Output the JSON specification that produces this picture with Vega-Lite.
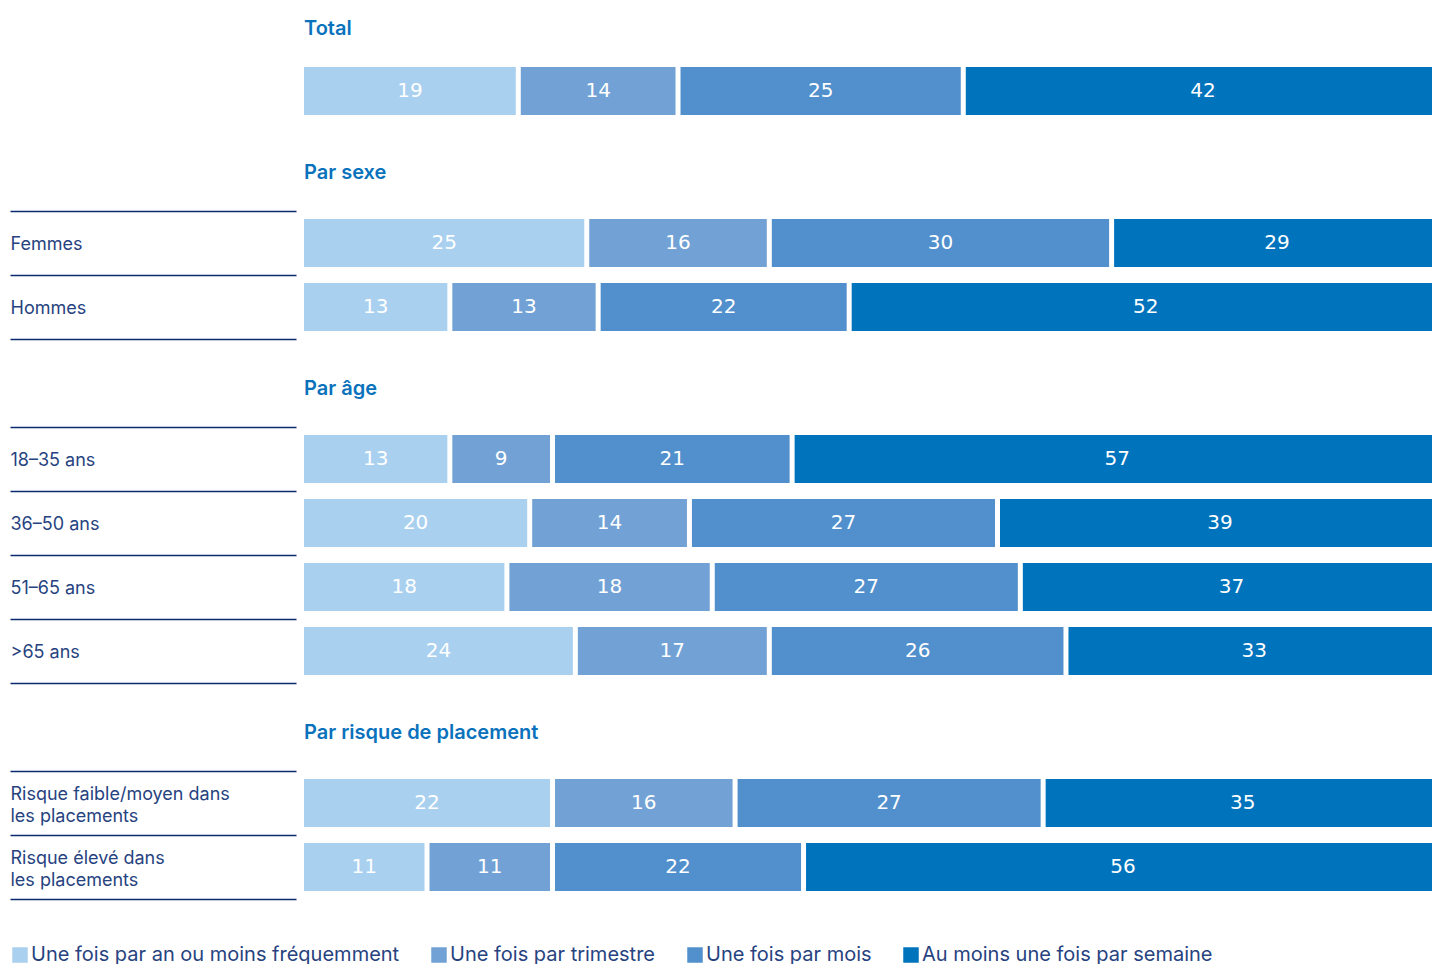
{
  "$schema": "https://vega.github.io/schema/vega-lite/v6.json",
  "padding": {"left": 9, "top": 19, "right": 0, "bottom": 0},
  "background": "white",
  "config": {
    "view": {"stroke": null},
    "font": "Inter",
    "title": {"anchor": "start", "frame": "group", "fontSize": 20, "fontWeight": 600, "color": "#0a72bc", "font": "Inter", "offset": 19.5},
    "axisY": {
      "title": null, "domain": false, "grid": false, "tickBand": "extent", "tickSize": 286, "tickColor": "#0c2b6b", "tickWidth": 1.5,
      "offset": 8, "labelAlign": "left", "labelPadding": 0, "labelFontSize": 18, "labelColor": "#27437f", "labelFont": "Inter",
      "labelLimit": 300, "labelLineHeight": 22, "labelOffset": 1, "labelExpr": "split(datum.label, '|')"
    },
    "concat": {"spacing": 38}
  },
  "data": {"values": [
    {"section": "Total", "row": " ", "cat": "Une fois par an ou moins fréquemment", "k": 1, "value": 19},
    {"section": "Total", "row": " ", "cat": "Une fois par trimestre", "k": 2, "value": 14},
    {"section": "Total", "row": " ", "cat": "Une fois par mois", "k": 3, "value": 25},
    {"section": "Total", "row": " ", "cat": "Au moins une fois par semaine", "k": 4, "value": 42},
    {"section": "Sexe", "row": "Femmes", "cat": "Une fois par an ou moins fréquemment", "k": 1, "value": 25},
    {"section": "Sexe", "row": "Femmes", "cat": "Une fois par trimestre", "k": 2, "value": 16},
    {"section": "Sexe", "row": "Femmes", "cat": "Une fois par mois", "k": 3, "value": 30},
    {"section": "Sexe", "row": "Femmes", "cat": "Au moins une fois par semaine", "k": 4, "value": 29},
    {"section": "Sexe", "row": "Hommes", "cat": "Une fois par an ou moins fréquemment", "k": 1, "value": 13},
    {"section": "Sexe", "row": "Hommes", "cat": "Une fois par trimestre", "k": 2, "value": 13},
    {"section": "Sexe", "row": "Hommes", "cat": "Une fois par mois", "k": 3, "value": 22},
    {"section": "Sexe", "row": "Hommes", "cat": "Au moins une fois par semaine", "k": 4, "value": 52},
    {"section": "Age", "row": "18–35 ans", "cat": "Une fois par an ou moins fréquemment", "k": 1, "value": 13},
    {"section": "Age", "row": "18–35 ans", "cat": "Une fois par trimestre", "k": 2, "value": 9},
    {"section": "Age", "row": "18–35 ans", "cat": "Une fois par mois", "k": 3, "value": 21},
    {"section": "Age", "row": "18–35 ans", "cat": "Au moins une fois par semaine", "k": 4, "value": 57},
    {"section": "Age", "row": "36–50 ans", "cat": "Une fois par an ou moins fréquemment", "k": 1, "value": 20},
    {"section": "Age", "row": "36–50 ans", "cat": "Une fois par trimestre", "k": 2, "value": 14},
    {"section": "Age", "row": "36–50 ans", "cat": "Une fois par mois", "k": 3, "value": 27},
    {"section": "Age", "row": "36–50 ans", "cat": "Au moins une fois par semaine", "k": 4, "value": 39},
    {"section": "Age", "row": "51–65 ans", "cat": "Une fois par an ou moins fréquemment", "k": 1, "value": 18},
    {"section": "Age", "row": "51–65 ans", "cat": "Une fois par trimestre", "k": 2, "value": 18},
    {"section": "Age", "row": "51–65 ans", "cat": "Une fois par mois", "k": 3, "value": 27},
    {"section": "Age", "row": "51–65 ans", "cat": "Au moins une fois par semaine", "k": 4, "value": 37},
    {"section": "Age", "row": ">65 ans", "cat": "Une fois par an ou moins fréquemment", "k": 1, "value": 24},
    {"section": "Age", "row": ">65 ans", "cat": "Une fois par trimestre", "k": 2, "value": 17},
    {"section": "Age", "row": ">65 ans", "cat": "Une fois par mois", "k": 3, "value": 26},
    {"section": "Age", "row": ">65 ans", "cat": "Au moins une fois par semaine", "k": 4, "value": 33},
    {"section": "Risque", "row": "Risque faible/moyen dans|les placements", "cat": "Une fois par an ou moins fréquemment", "k": 1, "value": 22},
    {"section": "Risque", "row": "Risque faible/moyen dans|les placements", "cat": "Une fois par trimestre", "k": 2, "value": 16},
    {"section": "Risque", "row": "Risque faible/moyen dans|les placements", "cat": "Une fois par mois", "k": 3, "value": 27},
    {"section": "Risque", "row": "Risque faible/moyen dans|les placements", "cat": "Au moins une fois par semaine", "k": 4, "value": 35},
    {"section": "Risque", "row": "Risque élevé dans|les placements", "cat": "Une fois par an ou moins fréquemment", "k": 1, "value": 11},
    {"section": "Risque", "row": "Risque élevé dans|les placements", "cat": "Une fois par trimestre", "k": 2, "value": 11},
    {"section": "Risque", "row": "Risque élevé dans|les placements", "cat": "Une fois par mois", "k": 3, "value": 22},
    {"section": "Risque", "row": "Risque élevé dans|les placements", "cat": "Au moins une fois par semaine", "k": 4, "value": 56}
  ]},
  "resolve": {"scale": {"color": "shared"}},
  "vconcat": [
    {
      "title": {"text": "Total", "offset": 11},
      "width": 1141, "height": 64,
      "transform": [
        {"filter": "datum.section === 'Total'"},
        {"stack": "value", "groupby": ["row"], "sort": [{"field": "k"}], "as": ["v0", "v1"]},
        {"calculate": "(datum.v0 + datum.v1) / 2", "as": "mid"}
      ],
      "encoding": {
        "y": {"field": "row", "type": "nominal", "sort": null, "scale": {"paddingInner": 0, "paddingOuter": 0}, "axis": {"tickColor": "white", "labelExpr": "''"}}
      },
      "layer": [
        {"mark": {"type": "bar", "x2Offset": -5, "height": {"band": 0.75}},
         "encoding": {
           "x": {"field": "v0", "type": "quantitative", "scale": {"domain": [0, 100], "nice": false, "zero": false}, "axis": null},
           "x2": {"field": "v1"},
           "color": {"field": "cat", "type": "nominal", "sort": null,
             "scale": {"domain": ["Une fois par an ou moins fréquemment", "Une fois par trimestre", "Une fois par mois", "Au moins une fois par semaine"], "range": ["#a9d0ef", "#72a2d5", "#5190cc", "#0073bd"]},
             "legend": {"orient": "none", "legendX": -294, "legendY": 886, "direction": "horizontal", "title": null, "symbolType": "square", "symbolSize": 240, "symbolStrokeWidth": 0, "labelFontSize": 20, "labelFont": "Inter", "labelColor": "#27437f", "labelLimit": 600, "columnPadding": 29, "labelOffset": 1}}
         }},
        {"mark": {"type": "text", "color": "white", "fontSize": 20, "font": "DejaVu Sans", "dx": -2.5, "baseline": "middle"},
         "encoding": {
           "x": {"field": "mid", "type": "quantitative"},
           "text": {"field": "value", "type": "quantitative"}
         }}
      ]
    },
    {
      "title": {"text": "Par sexe"},
      "width": 1141, "height": 128,
      "transform": [
        {"filter": "datum.section === 'Sexe'"},
        {"stack": "value", "groupby": ["row"], "sort": [{"field": "k"}], "as": ["v0", "v1"]},
        {"calculate": "(datum.v0 + datum.v1) / 2", "as": "mid"}
      ],
      "encoding": {
        "y": {"field": "row", "type": "nominal", "sort": null, "scale": {"paddingInner": 0, "paddingOuter": 0}}
      },
      "layer": [
        {"mark": {"type": "bar", "x2Offset": -5, "height": {"band": 0.75}},
         "encoding": {
           "x": {"field": "v0", "type": "quantitative", "scale": {"domain": [0, 100], "nice": false, "zero": false}, "axis": null},
           "x2": {"field": "v1"},
           "color": {"field": "cat", "type": "nominal", "sort": null, "legend": null}
         }},
        {"mark": {"type": "text", "color": "white", "fontSize": 20, "font": "DejaVu Sans", "dx": -2.5, "baseline": "middle"},
         "encoding": {
           "x": {"field": "mid", "type": "quantitative"},
           "text": {"field": "value", "type": "quantitative"}
         }}
      ]
    },
    {
      "title": {"text": "Par âge"},
      "width": 1141, "height": 256,
      "transform": [
        {"filter": "datum.section === 'Age'"},
        {"stack": "value", "groupby": ["row"], "sort": [{"field": "k"}], "as": ["v0", "v1"]},
        {"calculate": "(datum.v0 + datum.v1) / 2", "as": "mid"}
      ],
      "encoding": {
        "y": {"field": "row", "type": "nominal", "sort": null, "scale": {"paddingInner": 0, "paddingOuter": 0}}
      },
      "layer": [
        {"mark": {"type": "bar", "x2Offset": -5, "height": {"band": 0.75}},
         "encoding": {
           "x": {"field": "v0", "type": "quantitative", "scale": {"domain": [0, 100], "nice": false, "zero": false}, "axis": null},
           "x2": {"field": "v1"},
           "color": {"field": "cat", "type": "nominal", "sort": null, "legend": null}
         }},
        {"mark": {"type": "text", "color": "white", "fontSize": 20, "font": "DejaVu Sans", "dx": -2.5, "baseline": "middle"},
         "encoding": {
           "x": {"field": "mid", "type": "quantitative"},
           "text": {"field": "value", "type": "quantitative"}
         }}
      ]
    },
    {
      "title": {"text": "Par risque de placement"},
      "width": 1141, "height": 128,
      "transform": [
        {"filter": "datum.section === 'Risque'"},
        {"stack": "value", "groupby": ["row"], "sort": [{"field": "k"}], "as": ["v0", "v1"]},
        {"calculate": "(datum.v0 + datum.v1) / 2", "as": "mid"}
      ],
      "encoding": {
        "y": {"field": "row", "type": "nominal", "sort": null, "scale": {"paddingInner": 0, "paddingOuter": 0}, "axis": {"labelOffset": -9}}
      },
      "layer": [
        {"mark": {"type": "bar", "x2Offset": -5, "height": {"band": 0.75}},
         "encoding": {
           "x": {"field": "v0", "type": "quantitative", "scale": {"domain": [0, 100], "nice": false, "zero": false}, "axis": null},
           "x2": {"field": "v1"},
           "color": {"field": "cat", "type": "nominal", "sort": null, "legend": null}
         }},
        {"mark": {"type": "text", "color": "white", "fontSize": 20, "font": "DejaVu Sans", "dx": -2.5, "baseline": "middle"},
         "encoding": {
           "x": {"field": "mid", "type": "quantitative"},
           "text": {"field": "value", "type": "quantitative"}
         }}
      ]
    }
  ]
}
